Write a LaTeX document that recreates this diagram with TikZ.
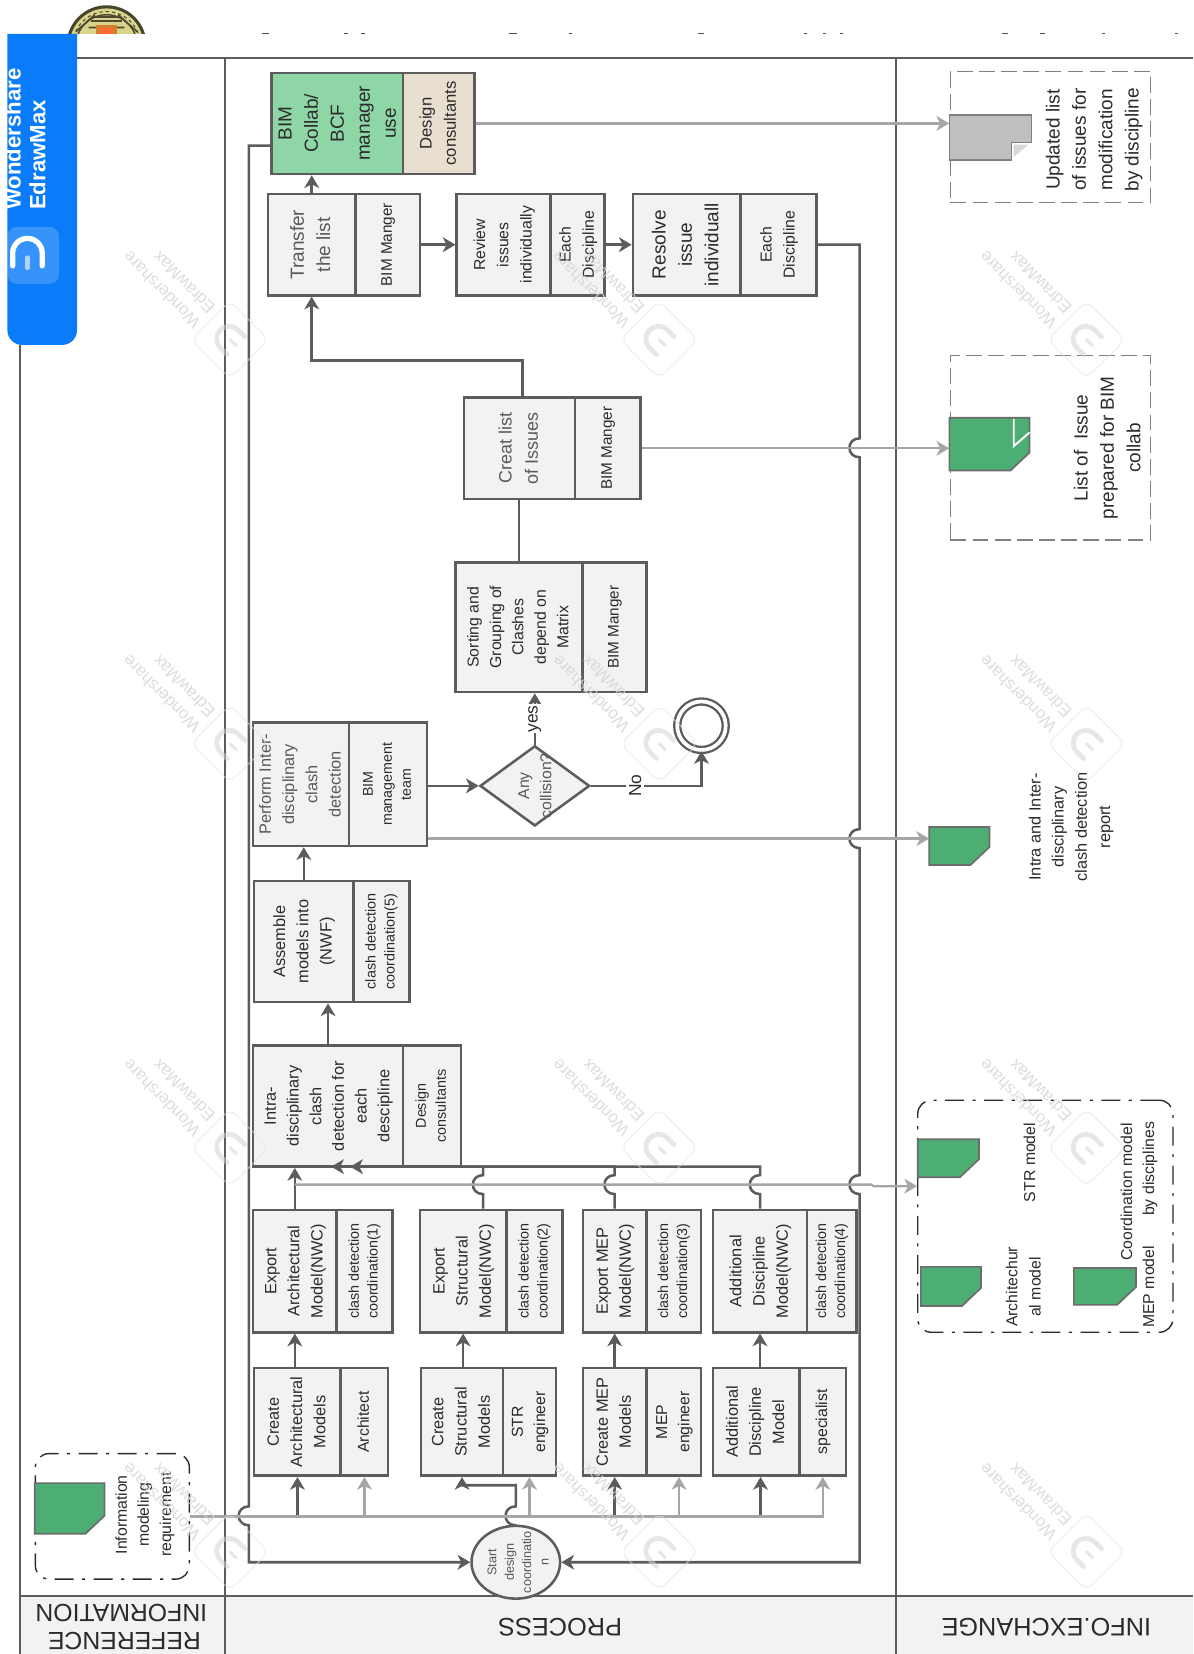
\documentclass[tikz,border=0pt]{standalone}
\usepackage{fontspec}
\usepackage{graphicx}
\setmainfont{Liberation Sans}
\usetikzlibrary{arrows.meta,shapes.geometric,calc}
\definecolor{lineD}{HTML}{5C5C5C}
\definecolor{lineG}{HTML}{A6A6A6}
\definecolor{boxF}{HTML}{F2F2F2}
\definecolor{tdark}{HTML}{2B2B2B}
\definecolor{tgray}{HTML}{595959}
\definecolor{docG}{HTML}{4CAE72}
\definecolor{docK}{HTML}{BFBFBF}
\definecolor{bimG}{HTML}{8FD6A6}
\definecolor{bimB}{HTML}{E8DFD0}
\definecolor{badge}{HTML}{0A7CFA}
\definecolor{wmk}{HTML}{D4D4D4}
\newcommand{\vt}[3]{\rotatebox{90}{\fontsize{#1}{#2}\selectfont\begin{tabular}{@{}c@{}}#3\end{tabular}}}
\newcommand{\bumpV}[2]{-- (#1,#2+9) .. controls (#1-13,#2+9) and (#1-13,#2-9) .. (#1,#2-9)}
\newcommand{\bumpD}[2]{-- (#1,#2-9) .. controls (#1-13,#2-9) and (#1-13,#2+9) .. (#1,#2+9)}
\tikzset{
  mainbox/.style={rectangle,draw=lineD,line width=2.4pt,fill=boxF,inner sep=0pt,text=tdark},
  dk/.style={draw=lineD,line width=2.4pt},
  gy/.style={draw=lineG,line width=2.2pt},
  >={Stealth[length=12pt,width=14pt,inset=3.5pt]},
  dashbox/.style={rectangle,draw=gray,line width=1.2pt,dash pattern=on 15pt off 6pt,inner sep=0pt},
  dotbox/.style={rectangle,draw=tdark,line width=1.3pt,rounded corners=13pt,dash pattern=on 18pt off 8pt on 3pt off 8pt,inner sep=0pt},
  lbl/.style={inner sep=0pt,text=tdark},
  anchorbox/.style={rectangle,inner sep=0pt},
  hdr/.style={rotate=180,inner sep=0pt,text=tdark,font=\fontsize{24}{24}\selectfont},
}
\newcommand{\lane}[8]{%
  \pgfmathsetmacro\wa{#3-#2}\pgfmathsetmacro\wb{#4-#3}\pgfmathsetmacro\hh{#6-#5}%
  \pgfmathsetmacro\ca{(#2+#3)/2}\pgfmathsetmacro\cb{(#3+#4)/2}\pgfmathsetmacro\cy{(#5+#6)/2}%
  \node[mainbox,minimum width=\wa pt,minimum height=\hh pt] (#1) at (\ca,\cy) {#7};
  \node[mainbox,minimum width=\wb pt,minimum height=\hh pt] (#1R) at (\cb,\cy) {#8};
}
\newcommand{\docnode}[6]{%
  \pgfmathsetmacro\wa{#3-#2}\pgfmathsetmacro\hh{#5-#4}%
  \pgfmathsetmacro\ca{(#2+#3)/2}\pgfmathsetmacro\cy{(#4+#5)/2}%
  \pgfmathsetmacro\xc{#3-18}\pgfmathsetmacro\yc{#5-17}%
  \filldraw[fill=#6,draw=gray!85!black,line width=1.6pt] (#2,#4) -- (#3,#4) -- (#3,\yc) -- (\xc,#5) -- (#2,#5) -- cycle;
  \node[anchorbox,minimum width=\wa pt,minimum height=\hh pt] (#1) at (\ca,\cy) {};
}
\begin{document}
\begin{tikzpicture}[x=1pt,y=-1pt]
\useasboundingbox (0,0) rectangle (1131,1568);
\fill[white] (0,0) rectangle (1131,1568);
% seal
\begin{scope}
  \clip (50,0) rectangle (150,32);
  \fill[black!65!olive] (101,43) circle (38);
  \fill[olive!35!white] (101,43) circle (35);
  \draw[black!60!olive,line width=1.4pt] (101,43) circle (29);
  \draw[black!60!olive,line width=1pt,dash pattern=on 3pt off 3pt] (101,43) circle (32);
  \draw[black!60!olive,line width=1.6pt] (72,30) -- (90,14) (130,30) -- (112,14) (84,26) -- (118,26);
  \draw[black!60!olive,line width=1.2pt] (88,16) -- (114,16) (86,20) -- (116,20);
  \fill[brown!70!orange] (91,24) rectangle (111,40);
  \fill[red!45!orange!80!white] (95,27) rectangle (107,40);
\end{scope}
% header band and lanes
\fill[boxF] (19,1513) rectangle (1131,1568);
\draw[lineD,line width=2pt] (73,55) -- (1131,55);
\draw[lineD,line width=2pt] (19,327) -- (19,1568);
\draw[lineD,line width=2pt] (213,55) -- (213,1568);
\draw[lineD,line width=2pt] (849.5,55) -- (849.5,1568);
\draw[lineD,line width=2pt] (19,1513) -- (1131,1513);
\node[hdr,font=\fontsize{23.5}{24}\selectfont] (hInfo) at (115,1529) {INFORMATION};
\node[hdr,font=\fontsize{23.5}{24}\selectfont] (hRef) at (118,1556) {REFERENCE};
\node[hdr] (hProc) at (531,1543) {PROCESS};
\node[hdr] (hEx) at (992,1543) {INFO.EXCHANGE};
% dashed holders
\node[dashbox,minimum width=190pt,minimum height=124pt] (updBox) at (996,130) {};
\node[dashbox,minimum width=190pt,minimum height=175pt] (listBox) at (996,424.5) {};
\node[dotbox,minimum width=242pt,minimum height=220pt] (coordBox) at (991,1153) {};
\node[dotbox,minimum width=146pt,minimum height=119pt] (infoBox) at (106.5,1437.5) {};
% documents
\filldraw[fill=docK,draw=gray,line width=1.6pt] (900,109) -- (978,109) -- (978,135) -- (959,135) -- (959,152) -- (900,152) -- cycle;
\fill[docK!60!white] (961,137) -- (975,137) -- (961,149) -- cycle;
\node[anchorbox,minimum width=78pt,minimum height=43pt] (docU) at (939,130.5) {};
\docnode{docL}{900}{976}{396}{446}{docG}
\draw[white,line width=1.8pt] (961,397) -- (961,423) -- (976,410);
\docnode{docI}{881}{938}{784}{820}{docG}
\docnode{docS}{870}{928}{1080}{1116}{docG}
\docnode{docA}{873}{930}{1201}{1238}{docG}
\docnode{docM}{1018}{1077}{1202}{1237}{docG}
\docnode{docR}{33}{99}{1406}{1454}{docG}
% document captions
\node[lbl] (tUpd) at (1037,132.5) {\vt{18}{25}{Updated list\\of issues for\\modification\\by discipline}};
\node[lbl] (tList) at (1051,424.5) {\vt{18}{25}{List of\ \ Issue\\prepared for BIM\\collab}};
\node[lbl] (tRep) at (1015,784) {\vt{15.5}{22}{Intra and Inter-\\disciplinary\\clash detection\\report}};
\node[lbl] (tStr) at (977,1102) {\vt{15}{21}{STR model}};
\node[lbl] (tArc) at (971,1220) {\vt{15}{22}{Architechur\\al model}};
\node[lbl] (tCo1) at (1069,1130) {\vt{15}{21}{Coordination model}};
\node[lbl] (tCo2) at (1090,1108) {\vt{15}{21}{by disciplines}};
\node[lbl] (tMep) at (1090,1220) {\vt{15}{21}{MEP model}};
\node[lbl] (tInf) at (137,1436) {\vt{15}{21}{Information\\modeling\\requirement}};
% process boxes
\node[mainbox,fill=bimG,minimum width=124pt,minimum height=96pt] (bim) at (320,117) {\rule{2pt}{0pt}\vt{18}{24.7}{BIM\\Collab/\\BCF\\manager\\use}};
\node[mainbox,fill=bimB,minimum width=68pt,minimum height=96pt] (bimR) at (416,117) {\vt{15.8}{23}{Design\\consultants}};
\lane{transfer}{254}{337}{398}{184}{280}{\color{tgray}\vt{18}{25}{Transfer\\the list}}{\vt{14.5}{20}{BIM Manger}}
\lane{review}{433}{522}{573}{184}{280}{\vt{15}{22}{Review\\issues\\individually}}{\vt{15}{22}{Each\\Discipline}}
\lane{resolve}{600}{702}{774}{184}{280}{\vt{18}{25}{Resolve\\issue\\individuall}}{\vt{15}{22}{Each\\Discipline}}
\lane{creat}{440}{545}{607}{377}{473}{\color{tgray}\vt{17}{25}{Creat list\\of Issues}}{\vt{14.5}{20}{BIM Manger}}
\lane{sorting}{432}{552}{613}{533}{656}{\vt{15}{21.3}{Sorting and\\Grouping of\\Clashes\\depend on\\Matrix}}{\vt{14.5}{20}{BIM Manger}}
\lane{perform}{240}{331}{405}{685}{802}{\color{tgray}\vt{15.5}{22}{Perform Inter-\\disciplinary\\clash\\detection}}{\vt{13.5}{18}{BIM\\management\\team}}
\lane{assemble}{241}{335}{388}{835}{950}{\vt{15.5}{22}{Assemble\\models into\\(NWF)}}{\vt{13.6}{18}{clash detection\\coordination(5)}}
\lane{intra}{240}{382}{437}{991}{1106}{\vt{15.5}{21.5}{Intra-\\disciplinary\\clash\\detection for\\each\\descipline}}{\vt{13.6}{19}{Design\\consultants}}
\lane{exportA}{240}{319}{372}{1147}{1263}{\vt{15.5}{22}{Export\\Architectural\\Model(NWC)}}{\vt{13.6}{18}{clash detection\\coordination(1)}}
\lane{exportS}{398}{480}{533}{1147}{1263}{\vt{15.5}{22}{Export\\Structural\\Model(NWC)}}{\vt{13.6}{18}{clash detection\\coordination(2)}}
\lane{exportM}{552.5}{613}{664.5}{1147}{1263}{\vt{15.5}{22}{Export MEP\\Model(NWC)}}{\vt{13.6}{18}{clash detection\\coordination(3)}}
\lane{exportD}{676}{765}{812}{1147}{1263}{\vt{15.5}{22}{Additional\\Discipline\\Model(NWC)}}{\vt{13.6}{18}{clash detection\\coordination(4)}}
\lane{createA}{241}{323}{368}{1297}{1399}{\vt{15.5}{22}{Create\\Architectural\\Models}}{\vt{15}{21}{Architect}}
\lane{createS}{399}{477}{527}{1297}{1399}{\vt{15.5}{22}{Create\\Structural\\Models}}{\vt{15}{21}{STR\\engineer}}
\lane{createM}{552.5}{613}{664.5}{1297}{1399}{\vt{15.5}{22}{Create MEP\\Models}}{\vt{15}{21}{MEP\\engineer}}
\lane{createD}{676}{758}{802}{1297}{1399}{\vt{15.5}{22}{Additional\\Discipline\\Model}}{\vt{15}{21}{specialist}}
% decision, start, end
\node[diamond,draw=lineD,line width=2.4pt,fill=boxF,minimum width=104pt,minimum height=76pt,inner sep=0pt] (dec) at (507,745) {};
\node[lbl,text=tgray] (decT) at (508,745) {\vt{15}{21}{Any\\collision?}};
\node[ellipse,draw=lineD,line width=2.4pt,fill=boxF,minimum width=84pt,minimum height=69pt,inner sep=0pt] (start) at (489,1481) {};
\node[lbl,text=tgray] (startT) at (492,1481) {\vt{12}{16.5}{Start\\design\\coordinatio\\n}};
\node[circle,draw=lineD,line width=2.2pt,double=white,double distance=3.5pt,fill=white,minimum size=46pt,inner sep=0pt] (endc) at (665,688) {};
% coordinates
\coordinate (busY) at (0,1438);
\coordinate (gyOne) at (0,1123);
\coordinate (gyTwo) at (0,1124.5);
\coordinate (fbTop) at (0,138);
\coordinate (repY) at (0,795);
% dark connectors
\draw[dk] (createA.south |- busY) -- ([xshift=4pt]createD.south |- busY);
\draw[dk,->] (createA.south |- busY) -- (createA.south);
\draw[dk,->] (createM.south |- busY) -- (createM.south);
\draw[dk,->] ([xshift=4pt]createD.south |- busY) -- ([xshift=4pt]createD.south);
\draw[dk,->] (start.north) \bumpV{489}{1437} -- (489,1408) -| (createS.south);
\draw[dk,->] (exportA.south |- createA.north) -- (exportA.south);
\draw[dk,->] (exportS.south |- createS.north) -- (exportS.south);
\draw[dk,->] (exportM.south |- createM.north) -- (exportM.south);
\draw[dk,->] (exportD.south |- createD.north) -- (exportD.south);
\draw[dk,->] (exportA.north) -- (exportA.north |- intra.south);
\draw[dk,->] (exportD.north) \bumpV{720.5}{1123} -- (720.5,1106) -- (332,1106);
\draw[dk,->] (exportM.north) \bumpV{582.75}{1123} -- (582.75,1106) -- (314,1106);
\draw[dk] ([xshift=19pt]exportS.north) \bumpV{458}{1123} -- (458,1106);
\draw[dk,->] (intra.north) -- (intra.north |- assemble.south);
\draw[dk,->] (assemble.north) -- (assemble.north |- perform.south);
\draw[dk,->] (performR.east |- dec.west) -- (dec.west);
\draw[dk,->] (dec.north) -- (dec.north |- sorting.south) node[pos=0.5,fill=white,rotate=90,inner sep=1pt,text=tdark,font=\fontsize{16.5}{16.5}\selectfont] (lYes) {yes};
\draw[dk,->] (dec.east) -| (endc.south) node[pos=0.2,fill=white,rotate=90,inner sep=3pt,text=tdark,font=\fontsize{16.5}{16.5}\selectfont] (lNo) {No};
\draw[dk] (sorting.north) -- (sorting.north |- creat.south);
\draw[dk,->] ([xshift=3pt]creat.north) |- (495,342) -| (transfer.south);
\draw[dk,->] (transfer.north) -- (transfer.north |- bim.south);
\draw[dk,->] (transferR.east) -- (review.west);
\draw[dk,->] (reviewR.east) -- (resolve.west);
\draw[dk,->] (resolveR.east) -- (815,232) \bumpD{815}{424.5} \bumpD{815}{795} \bumpD{815}{1123} -- (815,1481) -- (start.east);
\draw[dk,->] (bim.west |- fbTop) -- (236,138) \bumpD{236}{1437} -- (236,1481) -- (start.west);
% grey connectors
\draw[gy,->] (infoBox.east) -| (createDR.south);
\draw[gy,->] (createAR.south |- infoBox.east) -- (createAR.south);
\draw[gy,->] (createSR.south |- infoBox.east) -- (createSR.south);
\draw[gy,->] ([xshift=5pt]createMR.south |- infoBox.east) -- ([xshift=5pt]createMR.south);
\draw[gy,->] (exportA.north |- gyOne) -- (826,1123) -- (828,1124.5) -- (coordBox.west |- gyTwo);
\draw[gy,->] (bimR.east) -- (docU.west |- bimR.east);
\draw[gy,->] (creatR.east) -- (docL.west |- creatR.east);
\draw[gy,->] (performR.east |- repY) -- (docI.west |- repY);
% badge
\fill[badge] (7,32) -- (73,32) [rounded corners=14pt] -- (73,327) -- (7,327) [sharp corners] -- cycle;
\fill[white,opacity=.18,rounded corners=9pt] (7,215) rectangle (56,269);
\begin{scope}[shift={(26,240)},y=1pt]
  \draw[white,line width=5pt,line cap=round] (-14,-12) -- (-14,0) arc (180:0:14) -- (14,-12);
  \draw[white,opacity=.6,line width=4pt,line cap=round] (0,-14) -- (0,-4);
\end{scope}
\node[inner sep=0pt,text=white,anchor=center] (brand) at (26.5,132) {\rotatebox{90}{\fontsize{21}{23.5}\selectfont\bfseries\begin{tabular}{@{}l@{}}Wondershare\\EdrawMax\end{tabular}}};
% stray top marks
\foreach \a/\b in {248/255,326/330,342/346,483/490,539/542,662/667,762/765,780/783,796/799,950/956,986/991,1045/1048,1114/1117}
  \draw[black!70,line width=1pt] (\a,32) -- (\b,32);
% watermarks
\foreach \cx in {218,625,1030}{
  \foreach \cy in {322,705,1088,1471}{
    \begin{scope}[shift={(\cx,\cy)},y=1pt,rotate=45,opacity=.55]
      \draw[wmk!60!white,line width=1.2pt,rounded corners=8pt] (-26,-26) rectangle (26,26);
      \draw[wmk,line width=4.5pt,line cap=round] (-12,-8) -- (-12,1) arc (180:0:12) -- (12,-8);
      \draw[wmk,line width=3pt,line cap=round] (0,-8) -- (0,0);
    \end{scope}
    \node[rotate=135,inner sep=0pt,text=wmk,opacity=.8,font=\fontsize{16}{20}\selectfont,align=left] (wm-\cx-\cy) at (\cx-58,\cy-54) {Wondershare\\EdrawMax};
  }
}
\end{tikzpicture}
\end{document}
